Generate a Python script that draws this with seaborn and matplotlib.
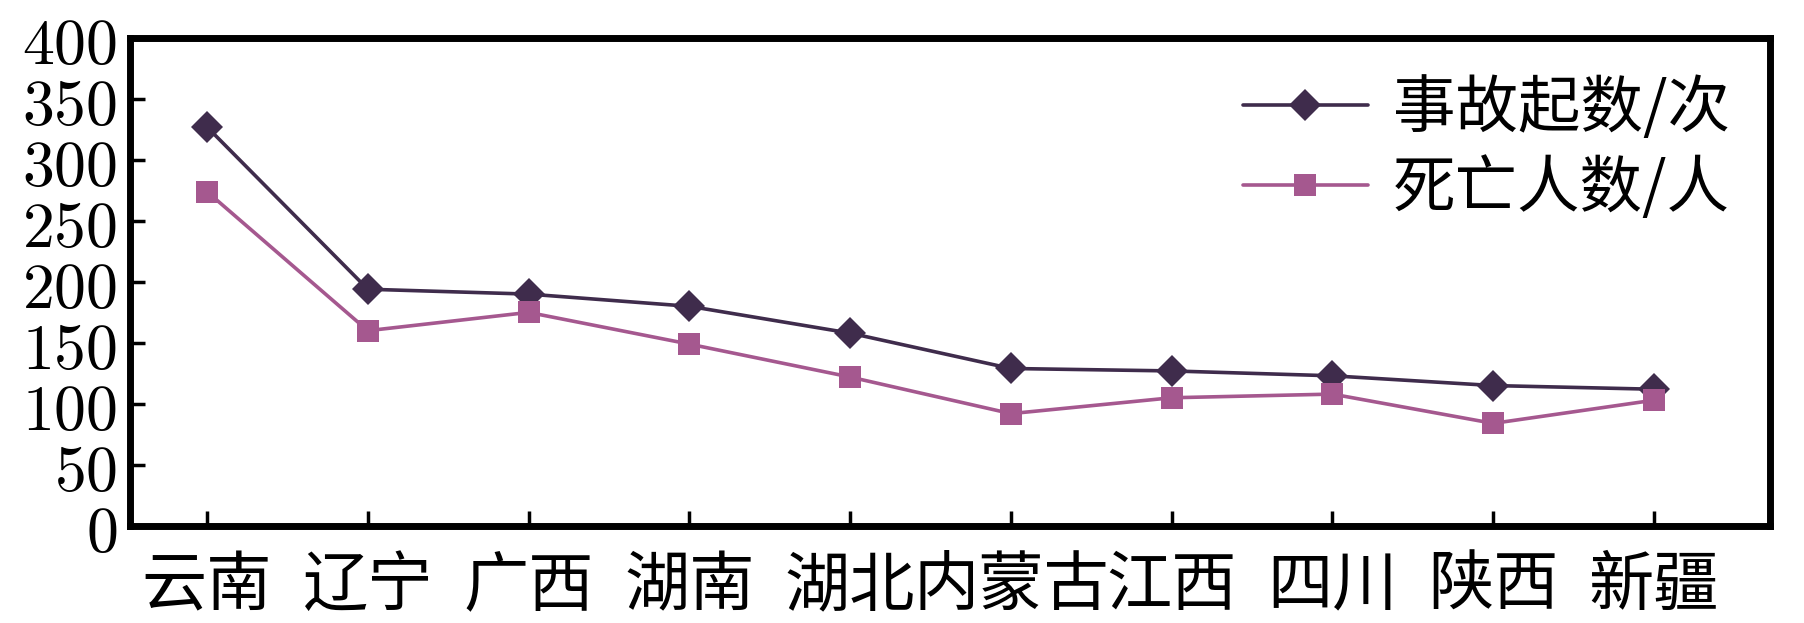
import matplotlib
matplotlib.use("Agg")
import matplotlib.pyplot as plt
import seaborn as sns
import pandas as pd
from matplotlib.ticker import FixedLocator, FuncFormatter

provinces = ["云南", "辽宁", "广西", "湖南", "湖北", "内蒙古", "江西", "四川", "陕西", "新疆"]
accidents = [327, 194, 190, 180, 158, 129, 127, 123, 115, 112]
deaths = [274, 160, 175, 149, 122, 92, 105, 108, 84, 103]
series_names = ["事故起数/次", "死亡人数/人"]
y_ticks = [0, 50, 100, 150, 200, 250, 300, 350, 400]

sns.set_theme(style="white")
plt.rcParams['font.family'] = ['Noto Sans CJK SC', 'DejaVu Sans']
plt.rcParams['mathtext.fontset'] = 'cm'
plt.rcParams['text.color'] = 'black'
plt.rcParams['xtick.color'] = 'black'
plt.rcParams['ytick.color'] = 'black'
plt.rcParams['xtick.labelcolor'] = 'black'
plt.rcParams['ytick.labelcolor'] = 'black'

df = pd.DataFrame({
    "idx": list(range(len(provinces))) * 2,
    "value": accidents + deaths,
    "series": [series_names[0]] * len(provinces) + [series_names[1]] * len(provinces),
})

fig = plt.figure(figsize=(18.04, 6.23), dpi=100)
ax = fig.add_axes([0.072, 0.156, 0.909, 0.783])

palette = {series_names[0]: "#3f2c4c", series_names[1]: "#a5588f"}
markers = {series_names[0]: "D", series_names[1]: "s"}
sns.lineplot(data=df, x="idx", y="value", hue="series", style="series",
             palette=palette, markers=markers, dashes=False, markersize=16,
             linewidth=2.6, markeredgewidth=0, ax=ax, sort=False)

ax.set_xlim(-0.48, 9.72)
ax.set_ylim(0, 400)
ax.xaxis.set_major_locator(FixedLocator(range(len(provinces))))
ax.set_xticklabels(provinces)
ax.yaxis.set_major_locator(FixedLocator(y_ticks))
ax.yaxis.set_major_formatter(FuncFormatter(lambda v, p: r"$%d$" % v))
ax.tick_params(axis='y', direction='in', length=11, width=2.5, pad=9, labelsize=46, left=True,
               colors='black')
ax.tick_params(axis='x', direction='in', length=11, width=2.5, pad=20, labelsize=47, bottom=True,
               colors='black')
ax.set_xlabel("")
ax.set_ylabel("")
for s in ax.spines.values():
    s.set_linewidth(5)
    s.set_color("black")

leg = ax.legend(loc="upper right", frameon=False, fontsize=45, handlelength=2.0,
                bbox_to_anchor=(1.01, 1.035), labelspacing=0.25, handletextpad=0.4)
for h in leg.legend_handles:
    h.set_markersize(16)
for t in leg.get_texts():
    t.set_color('black')

fig.savefig("out.png", dpi=100)
